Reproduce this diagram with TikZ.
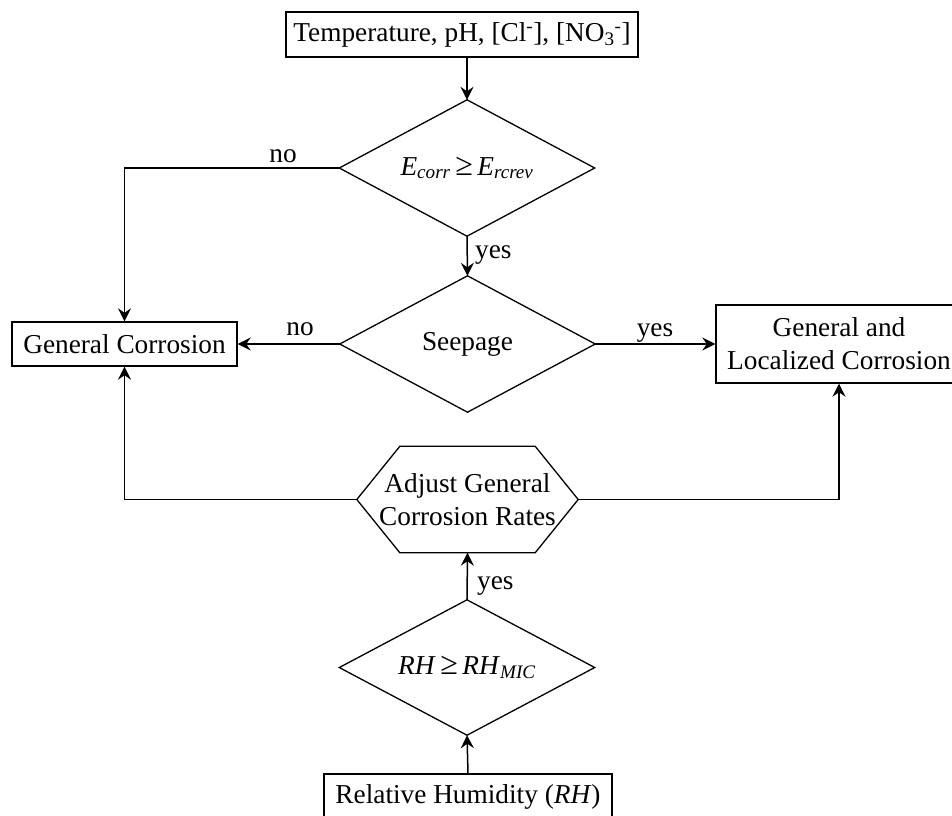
\documentclass[tikz,border=0pt]{standalone}
\usepackage{fontspec}
\setmainfont{Liberation Serif}
\usetikzlibrary{arrows.meta}
\newcommand{\bigge}{{\fontsize{32}{33}\selectfont ≥}}
\begin{document}
\begin{tikzpicture}[x=1pt,y=-1pt,
  every node/.style={font=\fontsize{27.3}{33}\selectfont},
  box/.style={draw, line width=1.4pt, inner sep=0pt, align=center},
  dia/.style={inner sep=0pt, minimum width=255pt, minimum height=136pt, align=center},
  lbl/.style={inner sep=0pt, anchor=base},
  arr/.style={line width=1.5pt, -{Stealth[length=13pt,width=13pt,inset=4.5pt]}},
  ln/.style={line width=1.3pt, line join=miter}]
\useasboundingbox (0,0) rectangle (952,815);
\clip (0,0) rectangle (952,815);
% boxes
\node[box, minimum width=352pt, minimum height=45pt] (top) at (462,34.5)
  {Temperature, pH, [Cl\textsuperscript{-}], [NO\textsubscript{3}\textsuperscript{-}]};
\node[box, minimum width=225pt, minimum height=44pt] (gc) at (124.5,344) {General Corrosion};
\node[box, minimum width=246pt, minimum height=78pt] (gl) at (839,344) {General and\\Localized Corrosion};
\node[box, minimum width=288pt, minimum height=46pt] (bot) at (468,797) {Relative Humidity (\textit{RH})};
% diamonds
\node[dia] (d1) at (467,168) {\textit{E}\textsubscript{\textit{corr}}\,\bigge\,\textit{E}\textsubscript{\textit{rcrev}}};
\draw[ln] (d1.north) -- (d1.east) -- (d1.south) -- (d1.west) -- cycle;
\node[dia] (sp) at (467.5,344) {Seepage};
\draw[ln] (sp.north) -- (sp.east) -- (sp.south) -- (sp.west) -- cycle;
\node[dia, minimum height=135pt] (rh) at (467,667.5) {\textit{RH}\,\bigge\,\textit{RH}\textsubscript{\textit{MIC}}};
\draw[ln] (rh.north) -- (rh.east) -- (rh.south) -- (rh.west) -- cycle;
% hexagon
\node[inner sep=0pt, minimum width=221pt, minimum height=106pt, align=center] (hx) at (467.5,499.5)
  {Adjust General\\Corrosion Rates};
\draw[ln] (hx.west) -- ([xshift=43pt]hx.north west) -- ([xshift=-43pt]hx.north east)
  -- (hx.east) -- ([xshift=-43pt]hx.south east) -- ([xshift=43pt]hx.south west) -- cycle;
% connectors
\draw[arr] (top.south -| d1.north) -- (d1.north);
\draw[arr] (d1.west) -| (gc.north);
\draw[arr] (d1.south) -- (sp.north);
\draw[arr] (sp.west) -- (gc.east);
\draw[arr] (sp.east) -- (gl.west);
\draw[arr] (hx.west) -| (gc.south);
\draw[arr] (hx.east) -| (gl.south);
\draw[arr] (rh.north) -- (hx.south);
\draw[arr] (bot.north) -- (rh.south);
% labels
\node[lbl] (l1) at (283,162) {no};
\node[lbl, anchor=base west] (l2) at (475,258) {yes};
\node[lbl] (l3) at (300,335) {no};
\node[lbl] (l4) at (655,336) {yes};
\node[lbl, anchor=base west] (l5) at (477,589) {yes};
\end{tikzpicture}
\end{document}
